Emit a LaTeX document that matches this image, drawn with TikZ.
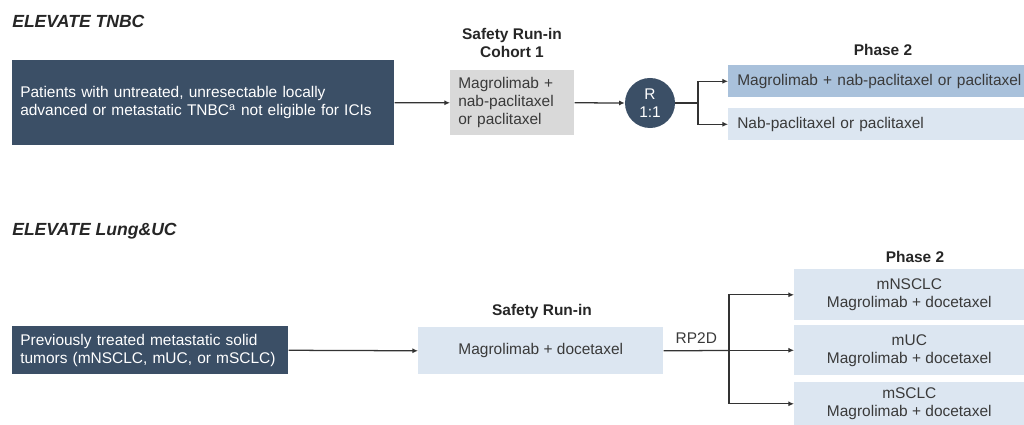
\documentclass[tikz,border=0pt]{standalone}
\usepackage{fontspec}
\setsansfont{Liberation Sans}
\usetikzlibrary{arrows.meta,positioning}
\definecolor{slate}{HTML}{3B4F66}
\definecolor{cohortgray}{HTML}{D9D9D9}
\definecolor{armblue}{HTML}{A9C1DB}
\definecolor{paleblue}{HTML}{DCE6F1}
\definecolor{bodytext}{HTML}{3A3A3A}

\begin{document}
\begin{tikzpicture}[
  x=0.025cm, y=-0.025cm,
  font=\fontsize{11}{12.8}\selectfont\sffamily, text=bodytext,
  title/.style={anchor=west, inner sep=0pt, text=black!85, font=\fontsize{12.5}{14}\selectfont\sffamily\bfseries\itshape},
  head/.style={inner sep=0pt, align=center, text=black!85, font=\fontsize{11}{12.8}\selectfont\sffamily\bfseries},
  pop/.style={fill=slate, text=white, anchor=north west, align=left, inner xsep=0.2cm, inner ysep=0pt},
  arm/.style={anchor=north west, inner ysep=0pt},
  conn/.style={draw=black!80, line width=0.9pt, -{Latex[length=4pt,width=3.6pt]}},
  link/.style={draw=black!80, line width=0.9pt}
]
\useasboundingbox (0,0) rectangle (1024,425);

\node[title] (tnbctitle) at (12,21) {ELEVATE TNBC};
\node[pop, text width=9.15cm, minimum height=2.125cm] (tnbcpop) at (12,60)
  {Patients with untreated, unresectable locally\\advanced or metastatic TNBC\textsuperscript{a} not eligible for ICIs};
\node[head] (cohorthead) at (512,43) {Safety Run-in\\Cohort 1};
\node[arm, fill=cohortgray, align=left, inner xsep=0.2cm, text width=2.7cm, minimum height=1.625cm] (cohort) at (450,70)
  {Magrolimab +\\nab-paclitaxel\\or paclitaxel};
\node[circle, fill=slate, text=white, align=center, inner sep=0pt, minimum size=1.25cm] (rand) at (650,103) {R\\1:1};
\node[head] (tnbcphase) at (883,50) {Phase 2};
\node[arm, fill=armblue, align=left, inner xsep=0.225cm, text width=7.3cm, minimum height=0.8cm] (armA) at (728,65)
  {Magrolimab + nab-paclitaxel or paclitaxel};
\node[arm, fill=paleblue, align=left, inner xsep=0.225cm, text width=7.3cm, minimum height=0.8cm] (armB) at (728,108)
  {Nab-paclitaxel or paclitaxel};
\coordinate (split) at (698,103);

\draw[conn] (tnbcpop.east) -- (cohort.west);
\draw[conn] (cohort.east) -- (rand.west);
\draw[link] (rand.east) -- (split);
\draw[conn] (split) |- (armA.west);
\draw[conn] (split) |- (armB.west);

\node[title] (lungtitle) at (12,231) {ELEVATE Lung\&UC};
\node[pop, text width=6.5cm, minimum height=1.2cm] (lungpop) at (12,326)
  {Previously treated metastatic solid\\tumors (mNSCLC, mUC, or mSCLC)};
\node[head] (runinhead) at (542,312) {Safety Run-in};
\node[arm, fill=paleblue, minimum width=6.125cm, minimum height=1.175cm] (runin) at (418,327) {Magrolimab + docetaxel};
\node[head] (lungphase) at (915,257) {Phase 2};
\node[arm, fill=paleblue, align=center, minimum width=5.75cm, minimum height=1.275cm] (nsclc) at (794,269)
  {mNSCLC\\Magrolimab + docetaxel};
\node[arm, fill=paleblue, align=center, minimum width=5.75cm, minimum height=1.25cm] (muc) at (794,325)
  {mUC\\Magrolimab + docetaxel};
\node[arm, fill=paleblue, align=center, minimum width=5.75cm, minimum height=1.075cm] (msclc) at (794,382)
  {mSCLC\\Magrolimab + docetaxel};
\coordinate (fork) at (729,350.5);

\draw[conn] (lungpop.east) -- (runin.west);
\draw[link] (runin.east) -- node[above=1pt] {RP2D} (fork);
\draw[conn] (fork) |- (nsclc.west);
\draw[conn] (fork) |- (muc.west);
\draw[conn] (fork) |- (msclc.west);
\end{tikzpicture}
\end{document}
